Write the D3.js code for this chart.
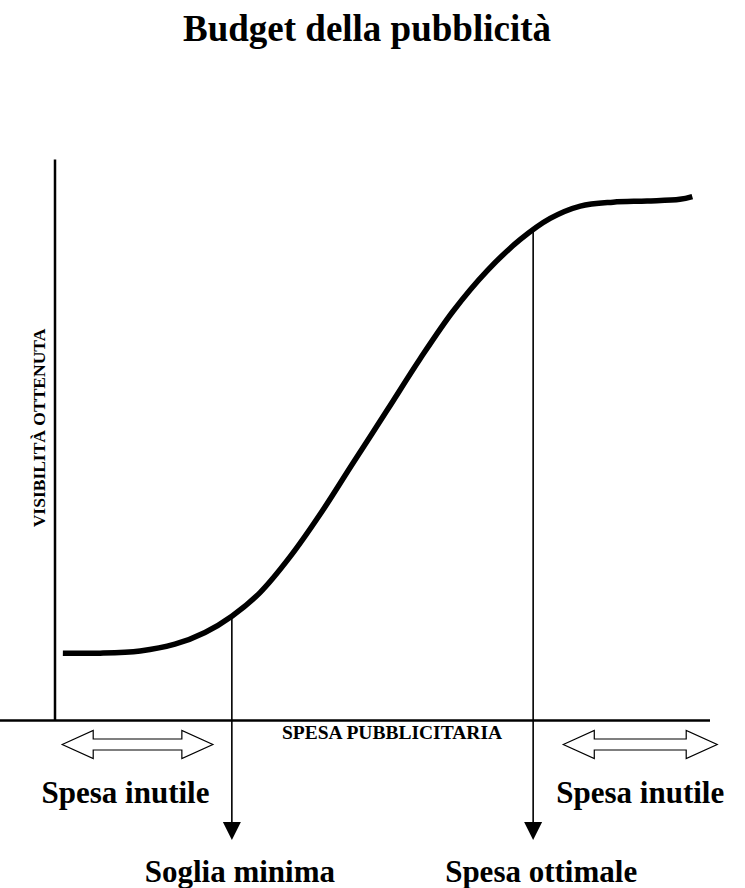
<!DOCTYPE html>
<html>
<head>
<meta charset="utf-8">
<script src="https://cdn.jsdelivr.net/npm/d3@7"></script>
<style>
  body { margin: 0; background: #fff; }
  text { font-family: "Liberation Serif", "Times New Roman", serif; font-weight: bold; fill: #000; }
</style>
</head>
<body>
<div id="chart"></div>
<script>
// curve: spending (0-100) vs visibility (0-100)
const spesa      = [1.2, 6.9, 13.0, 18.3, 22.9, 27.0, 31.3, 35.9, 40.5, 45.5, 50.7, 55.7, 60.8, 66.0, 71.0, 75.6, 80.2, 85.2, 90.4, 95.4, 97.3];
const visibilita = [12.0, 12.0, 12.4, 13.6, 15.7, 18.6, 22.8, 29.2, 36.8, 45.9, 55.3, 64.4, 73.0, 80.2, 85.7, 89.5, 91.7, 92.4, 92.6, 92.9, 93.4];

// marked thresholds on the spending axis
const soglie      = [27.0, 73.0];
const sogliaLabel = ["Soglia minima", "Spesa ottimale"];

// ranges of useless spending
const zoneFrom  = [1.1, 77.6];
const zoneTo    = [24.1, 101.1];
const zoneLabel = ["Spesa inutile", "Spesa inutile"];

const title  = "Budget della pubblicità";
const xTitle = "SPESA PUBBLICITARIA";
const yTitle = "VISIBILITÀ OTTENUTA";

const width = 745, height = 888;
const svg = d3.select('#chart').append('svg')
    .attr('width', width)
    .attr('height', height);

const x = d3.scaleLinear().domain([0, 100]).range([55, 710]);
const y = d3.scaleLinear().domain([0, 100]).range([720.5, 159.5]);

const points = spesa.map((s, i) => ({ s: s, v: visibilita[i] }));
const line = d3.line()
    .x(d => x(d.s))
    .y(d => y(d.v))
    .curve(d3.curveCatmullRom.alpha(0.5));

// title
svg.append('text')
    .attr('x', 367)
    .attr('y', 41)
    .attr('text-anchor', 'middle')
    .style('font-size', '37px')
    .text(title);

// axes
svg.append('line')
    .attr('x1', x(0)).attr('x2', x(0))
    .attr('y1', y(100)).attr('y2', y(0))
    .attr('stroke', '#000').attr('stroke-width', 2.5);
svg.append('line')
    .attr('x1', 0).attr('x2', x(100))
    .attr('y1', y(0)).attr('y2', y(0))
    .attr('stroke', '#000').attr('stroke-width', 2.5);

svg.append('text')
    .attr('x', 392)
    .attr('y', 739)
    .attr('text-anchor', 'middle')
    .style('font-size', '19.5px')
    .text(xTitle);

svg.append('text')
    .attr('transform', 'translate(45,428) rotate(-90)')
    .attr('text-anchor', 'middle')
    .style('font-size', '17.5px')
    .text(yTitle);

// drop lines with arrow heads
const arrowTip = 840;
const interp = d3.scaleLinear().domain(spesa).range(visibilita);
const drops = svg.append('g');
soglie.forEach((s, i) => {
    const px = x(s);
    drops.append('line')
        .attr('x1', px).attr('x2', px)
        .attr('y1', y(interp(s))).attr('y2', arrowTip - 17)
        .attr('stroke', '#000').attr('stroke-width', 1.6);
    drops.append('path')
        .attr('d', `M${px - 9},${arrowTip - 18}L${px + 9},${arrowTip - 18}L${px},${arrowTip}Z`)
        .attr('fill', '#000');
    drops.append('text')
        .attr('x', px + 8)
        .attr('y', 882)
        .attr('text-anchor', 'middle')
        .style('font-size', '31px')
        .text(sogliaLabel[i]);
});

// curve
svg.append('path')
    .datum(points)
    .attr('d', line)
    .attr('fill', 'none')
    .attr('stroke', '#000')
    .attr('stroke-width', 5.5)
    .attr('stroke-linecap', 'butt');

// double arrows for useless spending
const cy = 744.5, headH = 14, shaftH = 5.5, headL = 31;
zoneFrom.forEach((f, i) => {
    const a = x(f), b = x(zoneTo[i]);
    const d = [
        [a, cy], [a + headL, cy - headH], [a + headL, cy - shaftH],
        [b - headL, cy - shaftH], [b - headL, cy - headH], [b, cy],
        [b - headL, cy + headH], [b - headL, cy + shaftH],
        [a + headL, cy + shaftH], [a + headL, cy + headH]
    ];
    svg.append('path')
        .attr('d', 'M' + d.join('L') + 'Z')
        .attr('fill', '#fff')
        .attr('stroke', '#000')
        .attr('stroke-width', 1.2);
    svg.append('text')
        .attr('x', (a + b) / 2 - 12 + i * 12)
        .attr('y', 803)
        .attr('text-anchor', 'middle')
        .style('font-size', '31px')
        .text(zoneLabel[i]);
});
</script>
</body>
</html>
